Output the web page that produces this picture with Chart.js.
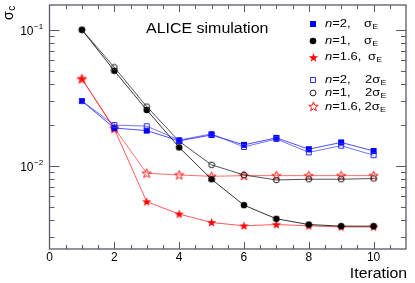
<!DOCTYPE html>
<html>
<head>
<meta charset="utf-8">
<script src="https://cdn.jsdelivr.net/npm/chart.js@4/dist/chart.umd.min.js"></script>
<style>
  html, body { margin: 0; padding: 0; background: #fff; }
  #wrap { width: 415px; height: 283px; position: relative; }
</style>
</head>
<body>
<div id="wrap"><canvas id="sigmaChart"></canvas></div>
<script>
// iterations and resolution values
const iterations = [1, 2, 3, 4, 5, 6, 7, 8, 9, 10];
const n2Sigma = [0.0300, 0.0190, 0.0182, 0.0153, 0.0169, 0.0143, 0.0161, 0.0133, 0.0149, 0.0129];
const n2TwoSigma = [0.0300, 0.0200, 0.0196, 0.0155, 0.0172, 0.0138, 0.0158, 0.0126, 0.0141, 0.0120];
const n1Sigma = [0.100, 0.0500, 0.0258, 0.0137, 0.0080, 0.00516, 0.0041, 0.00372, 0.00362, 0.00362];
const n1TwoSigma = [0.100, 0.0530, 0.0273, 0.0152, 0.0102, 0.0086, 0.0079, 0.0080, 0.0080, 0.0081];
const n16Sigma = [0.0436, 0.0187, 0.00547, 0.00444, 0.00385, 0.00364, 0.00372, 0.00364, 0.00357, 0.00357];
const n16TwoSigma = [0.0436, 0.0190, 0.00885, 0.0086, 0.0084, 0.0085, 0.0085, 0.0085, 0.0085, 0.0085];

const xTickLabels = ['0', '2', '4', '6', '8', '10'];
const yTickLabels = [[0.1, '\u22121'], [0.01, '\u22122']];

const FONT = '"Liberation Sans", Arial, sans-serif';

function makeMarker(shape, color, filled) {
    const size = shape === 'star' ? 11 : 8;
    const c = document.createElement('canvas');
    c.width = size;
    c.height = size;
    const ctx = c.getContext('2d');
    const m = size / 2;
    ctx.fillStyle = color;
    ctx.strokeStyle = color;
    ctx.lineWidth = 1;
    ctx.beginPath();
    if (shape === 'square') {
        if (filled) ctx.rect(1, 1, 6, 6);
        else ctx.rect(1.5, 1.5, 5, 5);
    } else if (shape === 'circle') {
        ctx.arc(m, m, filled ? 3.3 : 2.9, 0, Math.PI * 2);
    } else {
        for (let i = 0; i < 10; i++) {
            const r = i % 2 === 0 ? 4.9 : 2.0;
            const a = -Math.PI / 2 + i * Math.PI / 5;
            const px = m + r * Math.cos(a);
            const py = m + 0.3 + r * Math.sin(a);
            if (i === 0) ctx.moveTo(px, py);
            else ctx.lineTo(px, py);
        }
        ctx.closePath();
    }
    if (filled) ctx.fill();
    else ctx.stroke();
    return c;
}

const markers = {
    n2Sigma: makeMarker('square', '#0000ff', true),
    n2TwoSigma: makeMarker('square', '#2a2aff', false),
    n1Sigma: makeMarker('circle', '#000000', true),
    n1TwoSigma: makeMarker('circle', '#222222', false),
    n16Sigma: makeMarker('star', '#ff0000', true),
    n16TwoSigma: makeMarker('star', '#ff1a1a', false)
};

function series(values, marker, lineColor) {
    return {
        data: iterations.map((x, i) => ({ x: x, y: values[i] })),
        borderColor: lineColor,
        borderWidth: 1,
        pointStyle: marker,
        pointRadius: 4,
        tension: 0,
        fill: false
    };
}

// text helper with a horizontal stretch, the original fonts run wide
function drawText(ctx, str, x, y, size, opts) {
    opts = opts || {};
    const sx = opts.sx || 1;
    ctx.save();
    ctx.font = (opts.italic ? 'italic ' : '') + size + 'px ' + FONT;
    ctx.fillStyle = '#000';
    ctx.textBaseline = 'middle';
    ctx.textAlign = opts.align || 'left';
    ctx.translate(x, y);
    ctx.scale(sx, 1);
    ctx.fillText(str, 0, 0);
    const w = ctx.measureText(str).width * sx;
    ctx.restore();
    return w;
}

const framePlugin = {
    id: 'rootFrame',
    beforeDatasetsDraw(chart) {
        const ctx = chart.ctx;
        const area = chart.chartArea;
        const xs = chart.scales.x;
        const ys = chart.scales.y;
        ctx.save();
        ctx.strokeStyle = '#5a5a66';
        ctx.lineWidth = 1.3;
        ctx.strokeRect(area.left, area.top, area.right - area.left, area.bottom - area.top);

        ctx.lineWidth = 1;
        ctx.beginPath();
        for (let v = 0.5; v < 11; v += 0.5) {
            const px = Math.round(xs.getPixelForValue(v)) + 0.5;
            const len = v % 2 === 0 ? 7 : 4;
            ctx.moveTo(px, area.bottom);
            ctx.lineTo(px, area.bottom - len);
            ctx.moveTo(px, area.top);
            ctx.lineTo(px, area.top + len);
        }
        for (let d = -3; d <= -1; d++) {
            for (let m = 1; m <= 9; m++) {
                const v = m * Math.pow(10, d);
                if (v < ys.min || v > ys.max) continue;
                const py = Math.round(ys.getPixelForValue(v)) + 0.5;
                const len = m === 1 ? 10 : 5;
                ctx.moveTo(area.left, py);
                ctx.lineTo(area.left + len, py);
                ctx.moveTo(area.right, py);
                ctx.lineTo(area.right - len, py);
            }
        }
        ctx.stroke();
        ctx.restore();
    },
    afterDraw(chart) {
        const ctx = chart.ctx;
        const xs = chart.scales.x;
        const ys = chart.scales.y;

        // x tick labels
        xTickLabels.forEach(lbl => {
            drawText(ctx, lbl, xs.getPixelForValue(Number(lbl)), 258, 12, { align: 'center' });
        });
        // y tick labels, 10 with a superscript exponent
        yTickLabels.forEach(([v, exp]) => {
            const py = ys.getPixelForValue(v) + 2;
            drawText(ctx, '10', 33.5, py, 12, { align: 'right' });
            drawText(ctx, exp, 34, py - 5, 8);
        });

        // axis titles
        drawText(ctx, 'Iteration', 407, 274, 14, { align: 'right', sx: 1.13 });
        ctx.save();
        ctx.translate(12.5, 20);
        ctx.rotate(-Math.PI / 2);
        ctx.font = '14px ' + FONT;
        ctx.fillStyle = '#000';
        ctx.textBaseline = 'alphabetic';
        ctx.fillText('\u03c3', 0, 0);
        const sw = ctx.measureText('\u03c3').width;
        ctx.font = '10px ' + FONT;
        ctx.fillText('c', sw + 0.5, 2.5);
        ctx.restore();

        drawText(ctx, 'ALICE simulation', 146, 29, 14, { sx: 1.14 });

        // legend
        const rows = [
            [markers.n2Sigma, '2,', '', 364, 24],
            [markers.n1Sigma, '1,', '', 364, 40.5],
            [markers.n16Sigma, '1.6,', '', 368, 57],
            [markers.n2TwoSigma, '2,', '2', 365, 79.5],
            [markers.n1TwoSigma, '1,', '2', 365, 93],
            [markers.n16TwoSigma, '1.6,', '2', 364.5, 106.5]
        ];
        rows.forEach(([mk, nval, pre, sigX, y]) => {
            ctx.drawImage(mk, Math.round(313 - mk.width / 2), Math.round(y - mk.height / 2));
            let x = 325;
            x += drawText(ctx, 'n', x, y, 11, { italic: true, sx: 1.18 });
            drawText(ctx, '=' + nval, x, y, 11, { sx: 1.18 });
            let sx2 = sigX;
            if (pre) sx2 += drawText(ctx, pre, sx2, y, 11, { sx: 1.18 });
            sx2 += drawText(ctx, '\u03c3', sx2, y, 11, { sx: 1.18 });
            drawText(ctx, 'E', sx2 + 0.3, y + 3, 8, { sx: 1.1 });
        });
    }
};

const ctx = document.getElementById('sigmaChart').getContext('2d');
new Chart(ctx, {
    type: 'line',
    data: {
        datasets: [
            series(n2TwoSigma, markers.n2TwoSigma, 'rgba(40,40,255,0.65)'),
            series(n2Sigma, markers.n2Sigma, 'rgba(0,0,255,0.7)'),
            series(n1TwoSigma, markers.n1TwoSigma, 'rgba(40,40,40,0.8)'),
            series(n1Sigma, markers.n1Sigma, 'rgba(0,0,0,0.8)'),
            series(n16TwoSigma, markers.n16TwoSigma, 'rgba(255,30,30,0.65)'),
            series(n16Sigma, markers.n16Sigma, 'rgba(255,0,0,0.65)')
        ]
    },
    options: {
        responsive: true,
        maintainAspectRatio: false,
        animation: false,
        layout: { padding: { left: 49.5, top: 5, right: 9, bottom: 34 } },
        scales: {
            x: { type: 'linear', min: 0, max: 11, display: false },
            y: { type: 'logarithmic', min: 0.00246, max: 0.152, display: false }
        },
        plugins: {
            legend: { display: false },
            tooltip: { enabled: false }
        }
    },
    plugins: [framePlugin]
});
</script>
</body>
</html>
